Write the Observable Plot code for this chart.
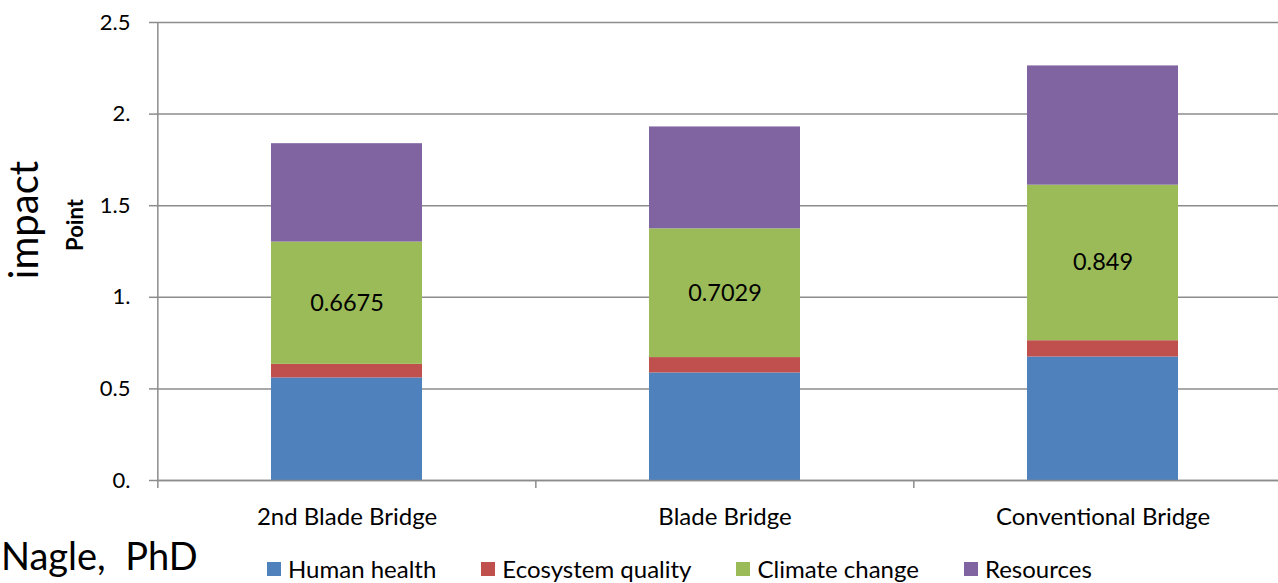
<!DOCTYPE html>
<html><head><meta charset="utf-8">
<script src="https://cdn.jsdelivr.net/npm/d3@7"></script>
<script src="https://cdn.jsdelivr.net/npm/@observablehq/plot@0.6"></script>
<style>
html,body{margin:0;padding:0;background:#fff;overflow:hidden}
#wrap{position:relative;width:1278px;height:583px;overflow:hidden;font-family:Lato,sans-serif;color:#000}
#wrap > svg.plot{position:absolute;left:0;top:0;max-width:none !important}
#legend{position:absolute;left:267px;top:555px;display:flex;align-items:center;gap:45px;font-size:24px;line-height:28px;white-space:nowrap}
#legend .item{display:flex;align-items:center}
#legend .sw{width:14px;height:14px;margin-right:7px;display:inline-block}
#author{position:absolute;left:1px;top:535px;font-size:38px;line-height:40px;white-space:pre}
#titles{position:absolute;left:0;top:0;pointer-events:none}
</style></head><body><div id="wrap"></div>
<script>
// ---- data ----
const bridges = ["2nd Blade Bridge", "Blade Bridge", "Conventional Bridge"];
const series = ["Human health", "Ecosystem quality", "Climate change", "Resources"];
const seriesColors = ["#4F81BD", "#C0504D", "#9BBB59", "#8064A2"];
const humanHealth = [0.560, 0.587, 0.674];
const ecosystemQuality = [0.074, 0.084, 0.089];
const climateChange = [0.6675, 0.7029, 0.849];
const resources = [0.537, 0.556, 0.651];
const yTicks = [0, 0.5, 1, 1.5, 2, 2.5];
const yTickLabels = ["0.", "0.5", "1.", "1.5", "2.", "2.5"];
const yTitle = "impact";
const yUnit = "Point";
const author = "Nagle,  PhD";
const labeledSeries = "Climate change";

// ---- table ----
const valuesBySeries = [humanHealth, ecosystemQuality, climateChange, resources];
const rows = series.flatMap((s, si) => bridges.map((b, bi) => ({bridge: b, series: s, value: valuesBySeries[si][bi]})));

const W = 1292, H = 540, ML = 157, MT = 22, MB = 60;
const step = (W - ML) / bridges.length;
const gray = "#8c8c8c";

const chart = Plot.plot({
  width: W, height: H, marginLeft: ML, marginRight: 0, marginTop: MT, marginBottom: MB,
  style: {fontFamily: "Lato, sans-serif", background: "#fff", color: "#000", overflow: "visible", maxWidth: "none"},
  x: {domain: bridges, paddingInner: 0.6, paddingOuter: 0.3, label: null},
  y: {domain: [0, 2.5], label: null},
  color: {domain: series, range: seriesColors},
  marks: [
    Plot.gridY(yTicks, {stroke: gray, strokeOpacity: 1, strokeWidth: 1.5}),
    Plot.barY(rows, {x: "bridge", y: "value", fill: "series", order: series}),
    Plot.text(rows, Plot.stackY({x: "bridge", y: "value", z: "series", order: series,
      text: d => d.series === labeledSeries ? String(d.value) : "", fontSize: 23.5, fill: "#000"})),
    Plot.ruleY([0], {stroke: gray, strokeWidth: 1.5}),
    Plot.ruleX(bridges, {x: d => d, dx: -step / 2, y1: 0, y2: 0, insetBottom: -8, stroke: gray, strokeWidth: 1.5}),
    Plot.ruleX(bridges.slice(0, 1), {x: d => d, dx: -step / 2, y1: 0, y2: 2.5, stroke: gray, strokeWidth: 1.5}),
    Plot.axisY(yTicks, {tickFormat: d => yTickLabels[yTicks.indexOf(d)], tickSize: 8, tickPadding: 19,
      stroke: gray, strokeWidth: 1.5, fill: "#000", fontSize: 22, label: null}),
    Plot.axisX({tickSize: 0, tickPadding: 27, fontSize: 24, fill: "#000", label: null})
  ]
});
chart.classList.add("plot");
const wrap = document.getElementById("wrap");
wrap.appendChild(chart);

// axis titles
const ns = "http://www.w3.org/2000/svg";
const tsvg = document.createElementNS(ns, "svg");
tsvg.setAttribute("id", "titles");
tsvg.setAttribute("width", 1278); tsvg.setAttribute("height", 583);
const t1 = document.createElementNS(ns, "text");
t1.setAttribute("transform", "translate(38,220) rotate(-90)");
t1.setAttribute("text-anchor", "middle");
t1.setAttribute("font-family", "Lato, sans-serif");
t1.setAttribute("font-size", 40);
t1.textContent = yTitle;
const t2 = document.createElementNS(ns, "text");
t2.setAttribute("transform", "translate(83,225) rotate(-90)");
t2.setAttribute("text-anchor", "middle");
t2.setAttribute("font-family", "Lato, sans-serif");
t2.setAttribute("font-weight", "bold");
t2.setAttribute("font-size", 22);
t2.textContent = yUnit;
tsvg.append(t1, t2);
wrap.appendChild(tsvg);

// legend
const legend = document.createElement("div");
legend.id = "legend";
series.forEach((s, i) => {
  const it = document.createElement("div"); it.className = "item";
  const sw = document.createElement("span"); sw.className = "sw"; sw.style.background = seriesColors[i];
  const lb = document.createElement("span"); lb.textContent = s;
  it.append(sw, lb); legend.appendChild(it);
});
wrap.appendChild(legend);

const au = document.createElement("div");
au.id = "author"; au.textContent = author;
wrap.appendChild(au);
</script></body></html>
